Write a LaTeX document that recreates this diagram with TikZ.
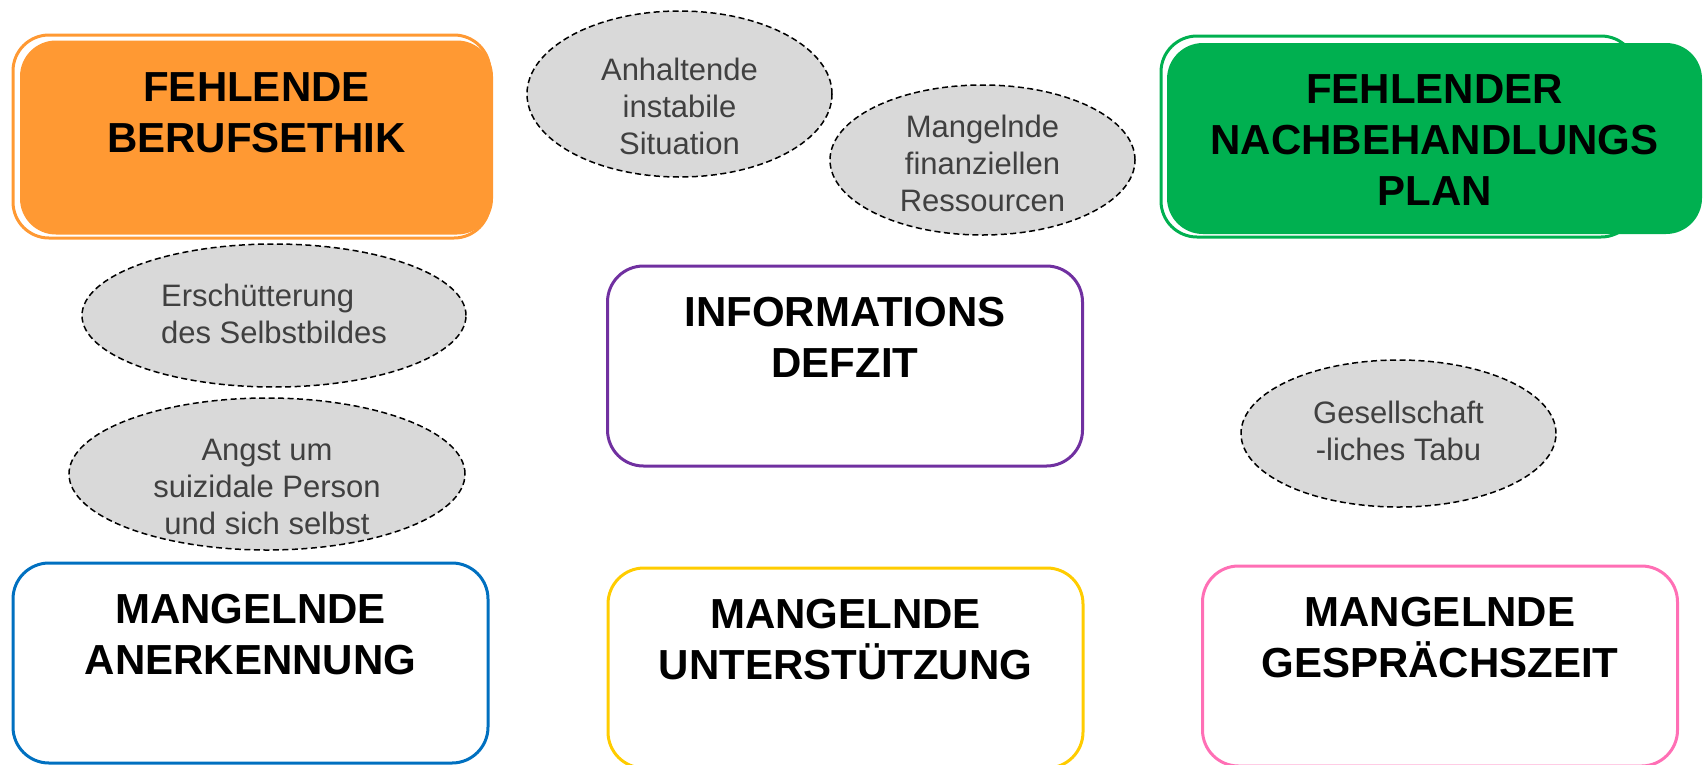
\documentclass[tikz,border=0pt]{standalone}
\usepackage{fontspec}
\setmainfont{Liberation Sans}
\usetikzlibrary{shapes.geometric}

\definecolor{ethik}{HTML}{FF9933}
\definecolor{plan}{HTML}{00B050}
\definecolor{info}{HTML}{7030A0}
\definecolor{anerk}{HTML}{0070C0}
\definecolor{unterst}{HTML}{FFCC00}
\definecolor{gespr}{HTML}{FF6FB5}
\definecolor{ovalgrau}{HTML}{D9D9D9}
\definecolor{hinttext}{HTML}{404040}

\tikzset{
  box/.style={draw=#1, line width=3pt, rounded corners=36pt,
    minimum width=475pt, minimum height=200pt, inner sep=0pt},
  head/.style={font=\fontsize{42}{51}\selectfont\bfseries, align=center,
    inner sep=0pt, anchor=north},
  oval/.style={ellipse, draw, fill=ovalgrau, line width=1.5pt,
    dash pattern=on 6pt off 3.5pt, inner sep=0pt},
  hint/.style={font=\fontsize{31}{37}\selectfont, text=hinttext,
    align=center, inner sep=0pt}
}

\begin{document}
\begin{tikzpicture}[x=1pt,y=-1pt]
\useasboundingbox (0,0) rectangle (1705,764);

% filled boxes with a frame round them
\node[box=ethik, line width=3pt, minimum width=477pt, minimum height=203pt] (ethikrand) at (251.5,136.5) {};
\node[box=ethik, draw=none, fill=ethik, minimum width=473pt, minimum height=194pt,
  label={[head,yshift=-33pt]north:{FEHLENDE\\BERUFSETHIK}}] (ethik) at (256.5,137.5) {};

\node[box=plan, line width=3pt, minimum width=476pt, minimum height=201pt] (planrand) at (1399,136.5) {};
\node[box=plan, draw=none, fill=plan, minimum width=535pt, minimum height=191pt,
  label={[head,yshift=-33pt]north:{FEHLENDER\\NACHBEHANDLUNGS\\PLAN}}] (plan) at (1434.5,138.5) {};

% open boxes
\foreach \n/\x/\y/\col/\txt in {
  info/845/366/info/{INFORMATIONS\\DEFZIT},
  anerkennung/250.5/663/anerk/{MANGELNDE\\ANERKENNUNG},
  unterstuetzung/845.5/668/unterst/{MANGELNDE\\UNTERSTÜTZUNG},
  gespraech/1440/666/gespr/{MANGELNDE\\GESPRÄCHSZEIT}}
{
    \node[box=\col, label={[head,yshift=-32pt]north:{\txt}}] (\n) at (\x,\y) {};
}

% ovals
\foreach \n/\x/\y/\w/\h/\dy/\txt in {
  instabil/679.5/94/305pt/166pt/12pt/{Anhaltende\\instabile\\Situation},
  finanzen/982.5/160/305pt/150pt/3pt/{Mangelnde\\finanziellen\\Ressourcen},
  angst/267/474/396pt/152pt/13pt/{Angst um\\suizidale Person\\und sich selbst},
  tabu/1398.5/433.5/315pt/147pt/-3pt/{Gesellschaft\\-liches Tabu}}
{
    \node[oval, minimum width=\w, minimum height=\h,
      label={[hint,yshift=-\dy]center:{\txt}}] (\n) at (\x,\y) {};
}
\node[oval, minimum width=384pt, minimum height=143pt,
  label={[hint,align=left,yshift=2pt]center:{Erschütterung\\des Selbstbildes}}] (selbstbild) at (274,315.5) {};

\end{tikzpicture}
\end{document}
